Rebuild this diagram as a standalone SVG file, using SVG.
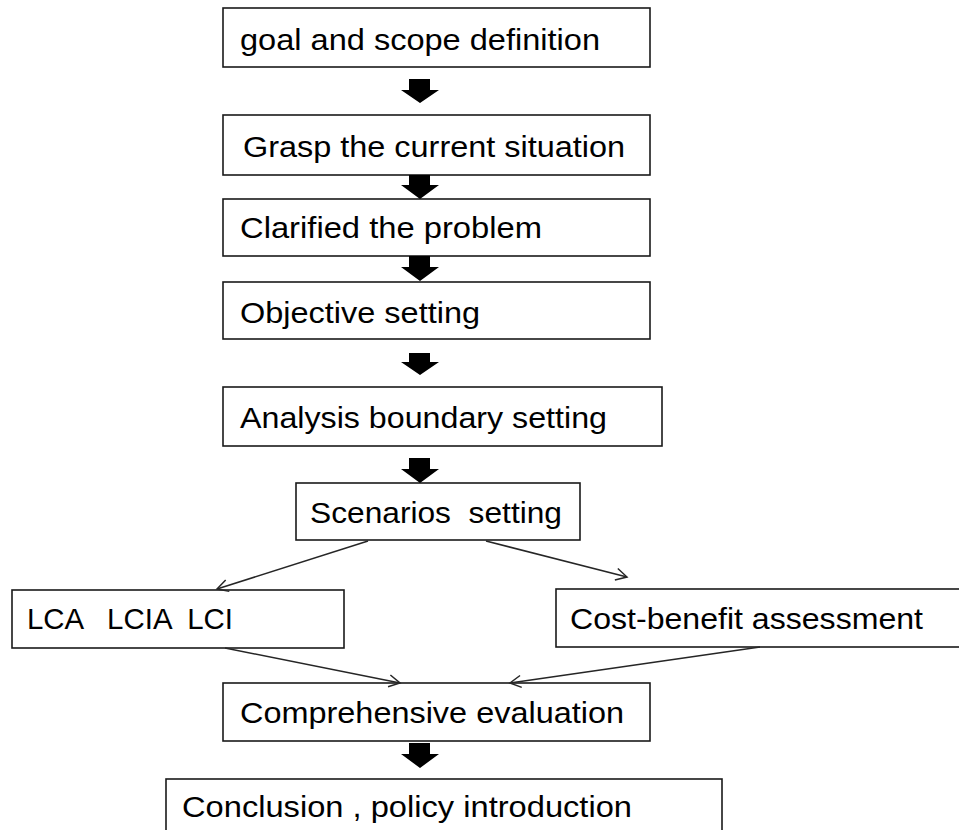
<svg xmlns="http://www.w3.org/2000/svg" width="959" height="830" viewBox="0 0 959 830">
<defs>
<style>
.box{fill:#fff;stroke:#1a1a1a;stroke-width:1.6}
.t{font-family:"Liberation Sans","Open Sans",Arial,sans-serif;font-size:30px;fill:#000}
.blk{fill:#000}
.ln{stroke:#262626;stroke-width:1.5;fill:none}
</style>
<marker id="open" markerUnits="userSpaceOnUse" markerWidth="16" markerHeight="16" viewBox="0 0 16 16" refX="14" refY="8" orient="auto">
<path d="M3,2 L14,8 L3,14" fill="none" stroke="#262626" stroke-width="1.5"/>
</marker>
</defs>
<rect width="959" height="830" fill="#fff"/>
<g id="n1"><rect class="box" x="223" y="8" width="427" height="59"/><text class="t" x="240" y="50" textLength="360" lengthAdjust="spacingAndGlyphs">goal and scope definition</text></g>
<g id="n2"><rect class="box" x="223" y="115" width="427" height="60"/><text class="t" x="243" y="157" textLength="382" lengthAdjust="spacingAndGlyphs">Grasp the current situation</text></g>
<g id="n3"><rect class="box" x="223" y="199" width="427" height="57"/><text class="t" x="240" y="238" textLength="302" lengthAdjust="spacingAndGlyphs">Clarified the problem</text></g>
<g id="n4"><rect class="box" x="223" y="282" width="427" height="57"/><text class="t" x="240" y="323" textLength="240" lengthAdjust="spacingAndGlyphs">Objective setting</text></g>
<g id="n5"><rect class="box" x="223" y="387" width="439" height="59"/><text class="t" x="240" y="428" textLength="367" lengthAdjust="spacingAndGlyphs">Analysis boundary setting</text></g>
<g id="n6"><rect class="box" x="296" y="483" width="284" height="57"/><text class="t" x="310" y="523" textLength="252" lengthAdjust="spacingAndGlyphs" xml:space="preserve">Scenarios  setting</text></g>
<g id="n7"><rect class="box" x="12" y="590" width="332" height="58"/><text class="t" x="27" y="629" textLength="206" lengthAdjust="spacingAndGlyphs" xml:space="preserve">LCA   LCIA  LCI</text></g>
<g id="n8"><rect class="box" x="556" y="589" width="420" height="58"/><text class="t" x="570" y="629" textLength="353" lengthAdjust="spacingAndGlyphs">Cost-benefit assessment</text></g>
<g id="n9"><rect class="box" x="223" y="683" width="427" height="58"/><text class="t" x="240" y="723" textLength="384" lengthAdjust="spacingAndGlyphs">Comprehensive evaluation</text></g>
<g id="n10"><rect class="box" x="166" y="779" width="556" height="70"/><text class="t" x="182" y="817" textLength="450" lengthAdjust="spacingAndGlyphs">Conclusion , policy introduction</text></g>
<g id="connectors">
<path class="blk" d="M409,79 H430 V90 H439 L420,103 L401,90 H409 Z"/>
<path class="blk" d="M409,175 H430 V185 H439 L420,199 L401,185 H409 Z"/>
<path class="blk" d="M409,256 H430 V267 H439 L420,281 L401,267 H409 Z"/>
<path class="blk" d="M409,353 H430 V362 H439 L420,375 L401,362 H409 Z"/>
<path class="blk" d="M409,458 H430 V469 H439 L420,483 L401,469 H409 Z"/>
<path class="blk" d="M409,743 H430 V754 H439 L420,768 L401,754 H409 Z"/>
<line class="ln" x1="368" y1="541" x2="217" y2="589" marker-end="url(#open)"/>
<line class="ln" x1="486" y1="541" x2="627" y2="577" marker-end="url(#open)"/>
<line class="ln" x1="225" y1="648" x2="400" y2="683" marker-end="url(#open)"/>
<line class="ln" x1="760" y1="647" x2="510" y2="683" marker-end="url(#open)"/>
</g>
</svg>
